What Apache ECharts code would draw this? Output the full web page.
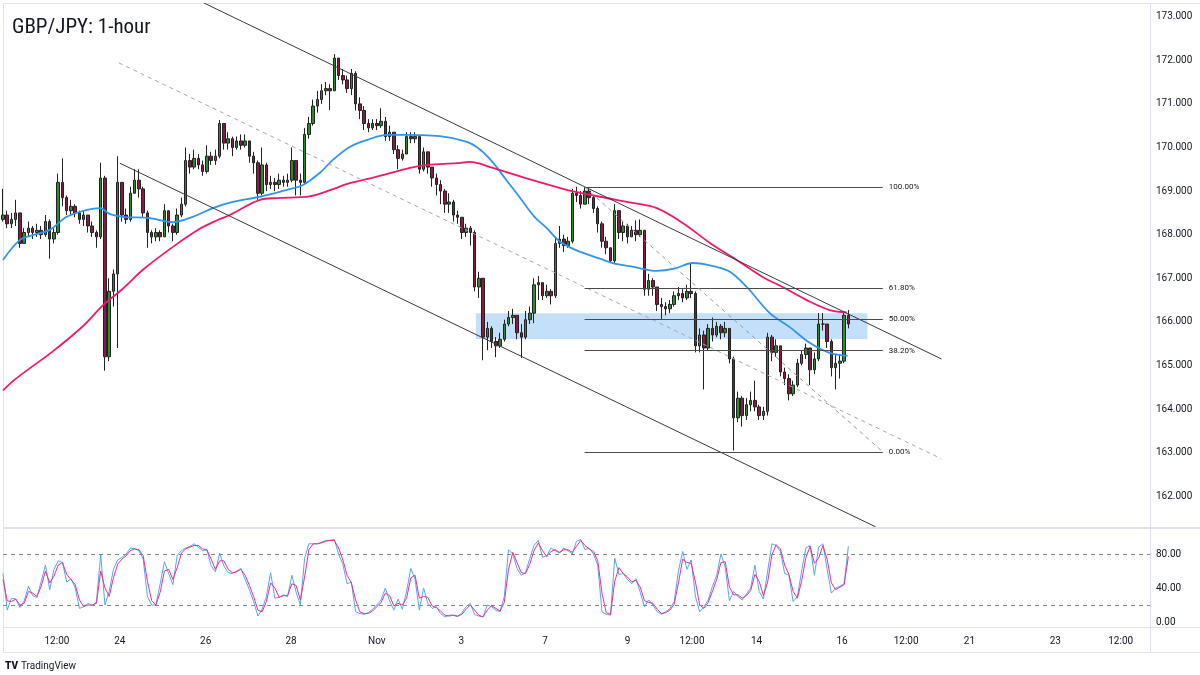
<!DOCTYPE html>
<html><head><meta charset="utf-8">
<script src="https://cdn.jsdelivr.net/npm/echarts@6/dist/echarts.min.js"></script>
<style>html,body{margin:0;padding:0;background:#fff}#c{width:1200px;height:675px}</style>
</head><body><div id="c"></div>
<script>
// ---- data (x = candle slot index) ----
const firstOpen = 168.35;
const closes = [
168.45,168.25,168.35,168.50,167.80,168.05,168.15,168.05,168.10,168.00,
168.30,167.90,168.05,169.20,168.85,168.55,168.65,168.50,168.35,168.45,
168.20,168.05,167.95,169.30,165.20,166.70,167.10,169.20,168.45,168.35,
168.95,169.25,169.05,168.50,168.05,167.95,168.05,167.95,168.55,168.20,
168.05,168.45,168.70,169.70,169.55,169.75,169.60,169.45,169.80,169.70,
169.80,170.55,170.10,170.20,170.00,170.15,170.05,170.15,169.80,169.65,
168.95,169.60,169.15,169.20,169.15,169.25,169.20,169.25,169.70,169.25,
169.20,170.30,170.55,170.95,171.10,171.30,171.35,171.30,172.05,171.65,
171.55,171.35,171.70,171.00,170.85,170.55,170.45,170.55,170.50,170.60,
170.25,170.35,169.95,169.75,169.85,170.25,170.20,170.25,169.50,169.90,
169.55,169.30,169.15,169.00,168.70,168.75,168.45,168.40,168.05,168.15,
168.05,166.80,167.00,165.65,165.85,165.55,165.45,165.60,165.95,166.10,
166.15,165.75,165.65,166.05,166.20,166.85,166.90,166.60,166.70,166.60,
167.80,167.90,167.75,167.85,168.95,168.90,168.70,169.00,168.85,168.60,
168.25,167.85,167.70,167.40,168.55,168.05,168.20,167.95,168.10,168.00,
168.10,166.75,166.95,166.80,166.40,166.35,166.30,166.40,166.60,166.65,
166.55,166.70,166.65,165.45,165.70,165.40,165.85,165.70,165.90,165.75,
165.85,165.15,163.80,164.25,163.85,164.10,164.20,164.05,163.85,163.95,
165.65,165.30,165.45,164.85,164.70,164.35,164.55,165.05,165.25,165.40,
164.90,165.15,165.95,165.95,165.55,164.95,165.05,165.10,166.15,165.95];
const highs = [
169.05,168.55,168.50,168.80,168.50,168.15,168.30,168.20,168.25,168.20,
168.45,168.35,168.15,169.40,169.75,168.90,168.80,168.70,168.55,168.55,
168.45,168.30,168.10,169.65,169.35,167.00,167.20,169.80,169.10,168.60,
169.10,169.50,169.50,169.10,168.55,168.10,168.15,168.10,168.70,168.55,
168.25,168.60,168.85,170.00,169.85,169.95,169.85,169.70,170.05,169.90,
169.95,170.63,170.55,170.35,170.25,170.25,170.30,170.30,170.15,169.90,
169.70,170.00,169.65,169.35,169.30,169.40,169.35,169.40,170.00,169.70,
169.40,170.45,170.70,171.10,171.30,171.45,171.50,171.45,172.14,172.05,
171.80,171.65,171.80,171.75,171.15,170.95,170.65,170.65,170.65,170.90,
170.70,170.50,170.35,170.05,169.95,170.35,170.35,170.35,170.20,170.00,
169.75,169.55,169.40,169.25,169.05,168.95,168.80,168.55,168.40,168.25,
168.20,168.10,167.15,167.00,166.00,165.90,165.65,165.75,166.05,166.25,
166.30,166.15,165.95,166.25,166.35,167.00,167.05,166.90,166.85,166.75,
167.95,168.20,168.00,167.95,169.05,169.10,169.00,169.09,169.05,168.90,
168.65,168.30,167.95,167.70,168.70,168.50,168.30,168.25,168.20,168.33,
168.35,168.05,167.10,167.00,166.80,166.55,166.45,166.50,166.70,166.80,
166.75,166.85,167.35,166.70,165.85,165.80,165.95,166.10,166.00,165.95,
166.00,165.85,165.20,164.40,164.30,164.25,164.40,164.65,164.10,164.05,
165.75,165.70,165.60,165.40,164.95,164.80,164.65,165.15,165.35,165.50,
165.40,165.30,166.20,166.20,165.95,165.60,165.25,165.25,166.25,166.27];
const lows = [
168.30,168.15,168.15,168.20,167.70,167.80,167.95,167.90,167.95,167.90,
167.95,167.45,167.80,168.00,168.65,168.45,168.45,168.40,168.25,168.20,
168.05,167.95,167.70,167.90,164.88,165.10,166.35,165.40,168.30,168.25,
168.30,168.95,168.85,168.40,167.70,167.80,167.85,167.85,167.95,168.05,
167.85,168.00,168.40,168.65,169.40,169.50,169.50,169.35,169.40,169.60,
169.60,169.75,169.95,169.95,169.80,169.95,169.95,170.00,169.65,169.40,
168.80,168.90,169.00,169.05,169.00,169.05,169.10,169.10,169.20,168.90,
168.90,169.15,170.20,170.50,170.80,171.00,171.20,170.86,171.30,171.55,
171.45,171.25,171.20,170.85,170.65,170.40,170.35,170.40,170.40,170.45,
170.15,170.15,169.85,169.50,169.70,169.85,170.10,170.10,169.40,169.45,
169.40,169.10,168.90,168.70,168.50,168.50,168.30,168.25,167.90,167.95,
167.75,166.70,166.55,165.12,165.35,165.40,165.19,165.40,165.55,165.90,
165.95,165.60,165.17,165.60,165.95,165.97,166.50,166.50,166.55,166.40,
166.55,167.70,167.60,167.70,167.80,168.75,168.60,168.70,168.70,168.50,
168.05,167.70,167.55,167.35,167.35,167.90,167.85,167.80,167.95,167.85,
167.95,166.60,166.60,166.60,166.25,166.05,166.15,166.20,166.35,166.50,
166.45,166.50,166.55,165.30,165.30,164.45,165.35,165.55,165.65,165.60,
165.65,165.05,163.05,163.70,163.60,163.75,163.95,163.95,163.75,163.75,
163.85,165.10,165.20,164.75,164.55,164.20,164.30,164.50,165.00,165.15,
164.55,164.80,165.10,165.80,165.40,164.75,164.45,164.70,165.05,165.85];

const maBlue = [[0,167.42],[4,167.88],[7,167.99],[11,168.11],[15,168.41],[19.8,168.57],[22.8,168.61],[25.2,168.47],[28.2,168.41],[34.6,168.38],[40,168.29],[44.7,168.41],[49.4,168.61],[54.1,168.75],[60.5,168.87],[66.8,169.03],[70.6,169.14],[74.6,169.42],[77.6,169.71],[81.6,170.01],[85.6,170.17],[90.4,170.29],[93.4,170.29],[102.8,170.26],[109.2,170.13],[112.2,169.96],[115.3,169.66],[118.5,169.25],[121.6,168.86],[125,168.42],[128,168.15],[131,167.85],[135,167.64],[140.5,167.45],[143.5,167.35],[148.5,167.26],[153.9,167.17],[158,167.22],[162.4,167.35],[168,167.26],[171.1,167.15],[175.1,166.80],[180.5,166.20],[185.2,165.88],[189.9,165.52],[194.6,165.29],[198.8,165.22]];
const maPink = [[0,164.43],[3.2,164.71],[11.8,165.33],[18.8,165.90],[23.5,166.38],[28.2,166.76],[33,167.20],[40,167.72],[46.4,168.14],[50.4,168.33],[53.4,168.45],[60.5,168.80],[64.5,168.84],[72.2,168.88],[77,169.02],[81.6,169.18],[88,169.33],[95.8,169.53],[99.8,169.60],[106.8,169.64],[109.9,169.67],[115.3,169.53],[124.7,169.25],[132.7,169.03],[140.5,168.87],[148.2,168.73],[153.9,168.61],[160,168.27],[166.4,167.81],[172.7,167.42],[178.8,167.03],[183.5,166.80],[189.2,166.50],[194.6,166.27],[198.6,166.22]];

const stochK = [
57,14,28,27,17,25,42,31,29,48, 67,38,62,72,70,47,51,40,16,18,
22,19,24,79,20,36,62,73,76,80, 87,86,84,74,30,20,20,45,71,57,
44,78,84,87,89,92,88,84,85,66, 59,81,66,58,57,60,63,50,38,24,
7,15,30,58,28,29,32,30,55,35, 20,75,92,92,92,94,96,96,97,80,
68,45,47,12,10,9,11,15,20,26, 40,25,14,27,15,36,63,50,14,40,
22,16,18,10,6,8,8,6,11,18, 22,9,7,6,20,18,14,12,30,85,
80,63,55,58,75,90,96,76,78,87, 84,81,87,84,80,95,97,85,87,80,
67,12,9,8,75,56,57,50,45,51, 35,18,26,20,12,9,12,16,24,60,
83,62,73,30,12,18,26,42,55,80, 65,25,36,30,26,33,40,67,36,27,
60,92,90,83,57,55,24,30,60,87, 90,55,88,92,62,34,40,42,45,89];
const stochD = [
50,25,24,27,20,22,36,34,30,42, 60,46,54,67,70,56,50,44,26,18,
20,20,22,60,40,30,52,68,74,78, 84,86,85,78,48,25,20,35,60,62,
50,64,81,86,88,90,90,86,85,74, 62,72,72,62,58,59,62,55,43,30,
14,12,24,46,40,29,31,31,45,43, 26,53,85,92,92,93,95,96,96,87,
73,55,46,26,12,10,10,13,18,23, 34,31,19,22,20,28,52,55,28,30,
29,19,17,13,8,7,8,7,9,15, 20,14,8,6,14,19,16,13,23,62,
82,70,58,57,68,84,93,84,77,83, 85,82,85,85,82,89,96,90,86,83,
72,34,11,9,48,64,57,53,47,49, 41,25,23,22,15,10,11,14,21,46,
74,70,69,47,20,16,23,36,50,70, 71,41,32,32,28,31,37,56,48,31,
47,79,91,86,67,56,36,28,48,76, 89,69,75,90,74,46,38,41,44,77];

const priceTicks = [162,163,164,165,166,167,168,169,170,171,172,173];
const stochTicks = [0,40,80];
const stochBands = [80,20];
const timeTickPos  = [12.7,27.5,47.7,67.8,88,107.9,127.6,147,162.2,177.4,197.5,212.6,227.5,247.7,263.1];
const timeTickText = ['12:00','24','26','28','Nov','3','7','9','12:00','14','16','12:00','21','23','12:00'];

const fibHigh = 169.09, fibLow = 163.02;
const fibStartX = 136.9, fibEndX = 207.1;
const fibRatios = [1, 0.618, 0.5, 0.382, 0];
const fibLabels = ['100.00%','61.80%','50.00%','38.20%','0.00%'];
const channelUpper = [[47.3,173.314],[220.9,165.15]];
const channelMid   = [[27.3,171.94],[220.9,162.86]];
const channelLower = [[27.5,169.64],[205.4,161.30]];
const zoneBox = [[111.3,166.20],[203.5,165.61]];

// ---- build ----
const candles = closes.map((c, i) => {
  const o = i === 0 ? firstOpen : closes[i - 1];
  return [i, o, c, Math.min(lows[i], o, c), Math.max(highs[i], o, c)];
});
const FONT = 'Roboto, "Liberation Sans", sans-serif';
const TXT = '#131722';
const chart = echarts.init(document.getElementById('c'), null, {renderer: 'canvas'});

const fibLines = fibRatios.map((r, k) => {
  const p = fibLow + r * (fibHigh - fibLow);
  return [{coord: [fibStartX, p], lineStyle: {color: '#4a4a4a', width: 1, type: 'solid'},
           label: {show: true, position: 'end', distance: 6, formatter: fibLabels[k], fontSize: 8, color: TXT, fontFamily: FONT}},
          {coord: [fibEndX, p]}];
});
fibLines.push([{coord: [fibStartX, fibHigh], lineStyle: {color: '#9a9a9a', width: 1, type: [4, 4]}, label: {show: false}},
               {coord: [fibEndX, fibLow]}]);

const frame = '#e0e3eb';
chart.setOption({
  animation: false,
  backgroundColor: '#ffffff',
  textStyle: {fontFamily: FONT},
  title: {text: 'GBP/JPY: 1-hour', left: 12, top: 17, padding: 0,
    textStyle: {fontSize: 21, fontWeight: 'normal', color: TXT, fontFamily: '"Liberation Sans Narrow", "Roboto Condensed", Roboto, sans-serif'}},
  grid: [
    {left: 3, top: 3.6, width: 1147, height: 523.2},
    {left: 3, top: 528.5, width: 1147, height: 98.6}
  ],
  xAxis: [
    {type: 'value', gridIndex: 0, min: 0, max: 270, axisLine: {show: false}, axisTick: {show: false}, axisLabel: {show: false}, splitLine: {show: false}},
    {type: 'value', gridIndex: 1, min: 0, max: 270, axisLine: {show: false}, axisTick: {show: false}, splitLine: {show: false},
     axisLabel: {show: true, customValues: timeTickPos, fontSize: 10, color: TXT, margin: 9,
       formatter: v => { const k = timeTickPos.findIndex(p => Math.abs(p - v) < 1e-6); return k >= 0 ? timeTickText[k] : ''; }}}
  ],
  yAxis: [
    {type: 'value', gridIndex: 0, position: 'right', min: 161.3, max: 173.3, axisLine: {show: false}, axisTick: {show: false}, splitLine: {show: false},
     axisLabel: {customValues: priceTicks, fontSize: 10, color: TXT, margin: 6, formatter: v => v.toFixed(3)}},
    {type: 'value', gridIndex: 1, position: 'right', min: -6, max: 110, axisLine: {show: false}, axisTick: {show: false}, splitLine: {show: false},
     axisLabel: {customValues: stochTicks, fontSize: 10, color: TXT, margin: 6, formatter: v => v.toFixed(2)}}
  ],
  series: [
    {type: 'line', xAxisIndex: 0, yAxisIndex: 0, data: [], z: 1, silent: true,
     markArea: {silent: true, itemStyle: {color: 'rgba(100,170,240,0.38)'}, data: [[{coord: zoneBox[0]}, {coord: zoneBox[1]}]]}},
    {type: 'candlestick', xAxisIndex: 0, yAxisIndex: 0, data: candles, encode: {x: 0, y: [1, 2, 3, 4]}, barWidth: 3, z: 2,
     itemStyle: {color: '#2f8a2f', color0: '#8c1843', borderColor: '#222222', borderColor0: '#222222', borderWidth: 1}},
    {type: 'line', xAxisIndex: 0, yAxisIndex: 0, data: maBlue, smooth: 0.35, showSymbol: false, z: 3,
     lineStyle: {color: '#2f95f0', width: 1.8}},
    {type: 'line', xAxisIndex: 0, yAxisIndex: 0, data: maPink, smooth: 0.35, showSymbol: false, z: 3,
     lineStyle: {color: '#f2186e', width: 1.8}},
    {type: 'line', xAxisIndex: 0, yAxisIndex: 0, data: channelUpper, showSymbol: false, z: 4, lineStyle: {color: '#3a3a3a', width: 1},
     markLine: {silent: true, symbol: 'none', data: fibLines}},
    {type: 'line', xAxisIndex: 0, yAxisIndex: 0, data: channelLower, showSymbol: false, z: 4, lineStyle: {color: '#3a3a3a', width: 1}},
    {type: 'line', xAxisIndex: 0, yAxisIndex: 0, data: channelMid, showSymbol: false, z: 4, lineStyle: {color: '#a8a8a8', width: 1, type: [4, 4]}},
    {type: 'line', xAxisIndex: 1, yAxisIndex: 1, data: stochK.map((v, i) => [i, v]), showSymbol: false, z: 3,
     lineStyle: {color: '#55a6f5', width: 1},
     markLine: {silent: true, symbol: 'none', label: {show: false}, lineStyle: {color: '#8a8a8a', width: 1, type: [4, 4]},
       data: stochBands.map(b => ({yAxis: b}))}},
    {type: 'line', xAxisIndex: 1, yAxisIndex: 1, data: stochD.map((v, i) => [i, v]), showSymbol: false, z: 4,
     lineStyle: {color: '#ee2f8a', width: 1}}
  ],
  graphic: [
    {type: 'line', silent: true, shape: {x1: 3, y1: 3.5, x2: 1200, y2: 3.5}, style: {stroke: frame, lineWidth: 1}},
    {type: 'line', silent: true, shape: {x1: 3.5, y1: 3, x2: 3.5, y2: 653}, style: {stroke: frame, lineWidth: 1}},
    {type: 'line', silent: true, shape: {x1: 1150.5, y1: 3, x2: 1150.5, y2: 653}, style: {stroke: frame, lineWidth: 1}},
    {type: 'line', silent: true, shape: {x1: 3, y1: 528, x2: 1200, y2: 528}, style: {stroke: frame, lineWidth: 2}},
    {type: 'line', silent: true, shape: {x1: 3, y1: 627.5, x2: 1200, y2: 627.5}, style: {stroke: frame, lineWidth: 1}},
    {type: 'line', silent: true, shape: {x1: 3, y1: 652.5, x2: 1200, y2: 652.5}, style: {stroke: frame, lineWidth: 1}},
    {type: 'text', silent: true, left: 5, top: 661, style: {text: 'TV', fontSize: 10, fontWeight: 900, fill: TXT, fontFamily: 'Roboto, sans-serif'}},
    {type: 'text', silent: true, left: 21, top: 661, style: {text: 'TradingView', fontSize: 10, fill: TXT, fontFamily: FONT}}
  ]
});
</script>
</body></html>
